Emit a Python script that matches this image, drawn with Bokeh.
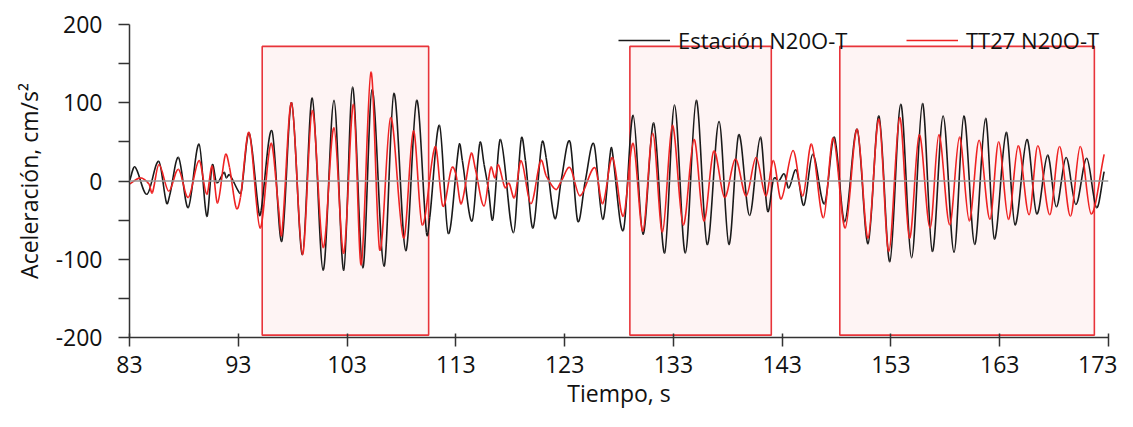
from bokeh.plotting import figure
from bokeh.models import (Range1d, FixedTicker, Span, Legend, LegendItem, ColumnDataSource)
from bokeh.embed import file_html
from bokeh.resources import INLINE

# ---- data ----
t_est = [83.0, 83.5, 84.6, 85.7, 86.4, 86.7, 87.5, 88.4, 89.4, 90.1, 90.6, 91.0, 91.7, 91.9, 92.2,
         93.1, 93.3, 94.0, 94.9, 95.1, 96.1, 97.0, 97.9, 98.9, 99.8, 100.8, 101.8, 102.7, 103.5,
         104.45, 105.3, 106.4, 107.3, 108.4, 109.4, 110.3, 110.6, 111.5, 112.3, 113.3, 113.6, 114.5,
         115.2, 115.6, 116.0, 116.4, 117.1, 118.3, 119.0, 119.4, 120.1, 120.9, 121.3, 122.1, 122.7,
         123.5, 124.2, 124.9, 125.7, 126.5, 127.2, 127.35, 128.4, 129.3, 130.2, 131.2, 132.2, 133.1,
         134.1, 135.1, 136.1, 137.2, 138.1, 139.0, 140.0, 141.0, 141.65, 142.2, 142.7, 143.2, 143.6,
         144.3, 145.0, 145.8, 146.9, 147.8, 148.75, 149.9, 150.9, 151.9, 152.9, 153.9, 154.9, 155.9,
         156.8, 157.8, 158.8, 159.7, 160.7, 161.7, 162.5, 163.6, 164.4, 165.5, 166.4, 167.4, 168.2,
         169.1, 170.0, 171.0, 171.9, 172.6]
a_est = [0, 18, -17, 25, -28, -18, 30, -34, 47, -45, 20, -2, 11, 4, 8,
         -15, -12, 61, -41, -38, 64, -77, 100, -94, 106, -114, 103, -114, 120,
         -111, 117, -109, 112, -89, 103, -66, -47, 71, -67, 46, 26, -51,
         48, 21, -11, -49, 53, -66, 53, 26, -60, 48, 30, -48, 2,
         50, -51, 0, 47, -49, 36, 41, -63, 84, -68, 74, -92, 97,
         -92, 103, -81, 76, -81, 59, -44, 56, -38, 2, 0, 9, -9,
         14, -31, 34, -29, 56, -52, 66, -80, 83, -103, 98, -98, 99,
         -90, 83, -91, 83, -81, 80, -74, 62, -56, 53, -42, 33, -33,
         30, -30, 29, -34, 12]

t_tt27 = [83.0, 84.0, 84.8, 85.1, 85.7, 86.6, 87.5, 88.4, 89.4, 90.1, 90.6, 91.1, 91.8, 92.2, 92.8,
          93.2, 94.0, 95.0, 96.0, 96.7, 97.0, 97.9, 98.9, 99.8, 100.8, 101.8, 102.7, 103.6, 104.3,
          105.2, 106.0, 107.0, 108.2, 109.1, 109.9, 111.1, 111.8, 112.6, 113.0, 113.5, 114.4, 114.8,
          115.6, 116.2, 116.6, 116.9, 117.5, 117.9, 118.4, 119.0, 119.9, 120.8, 121.3, 122.2, 122.7,
          123.5, 124.4, 125.8, 126.5, 127.4, 128.4, 129.3, 130.2, 131.1, 132.0, 132.9, 133.9, 134.9,
          135.8, 136.7, 137.7, 138.7, 139.7, 140.6, 141.5, 142.2, 142.9, 144.0, 144.9, 145.7, 146.8,
          147.7, 148.8, 149.9, 150.9, 151.9, 152.8, 153.8, 154.7, 155.6, 156.6, 157.4, 158.4, 159.3,
          160.2, 161.1, 162.1, 162.9, 163.8, 164.7, 165.7, 166.5, 167.6, 168.5, 169.5, 170.4, 171.4,
          172.6]
a_tt27 = [-4, 4, -4, -15, 21, -13, 15, -21, 26, -17, 19, -28, 33, 17, -34,
          -21, 62, -60, 48, -34, -68, 100, -94, 90, -85, 68, -92, 98, -107,
          139, -88, 81, -73, 64, -56, 44, -32, 16, 9, -29, 35, 15,
          -32, 17, 4, 21, -8, -3, -21, 26, -29, 26, 7, -11, 0,
          17, -19, 17, -29, 30, -45, 48, -64, 61, -65, 71, -56, 53,
          -51, 38, -21, 28, -19, 30, -19, 26, -23, 39, -19, 47, -47,
          55, -60, 66, -73, 79, -90, 81, -73, 59, -60, 59, -56, 56,
          -51, 52, -49, 50, -49, 45, -43, 45, -43, 44, -45, 44, -42,
          34]

# highlighted windows (s) and their vertical extent (cm/s2)
box_start = [95.2, 129.0, 148.3]
box_end = [110.5, 142.0, 171.7]
box_bottom = [-197, -197, -197]
box_top = [172, 172, 172]

x_ticks = [83, 93, 103, 113, 123, 133, 143, 153, 163, 173]
y_ticks = [-200, -100, 0, 100, 200]
y_tick_labels = ["-200", "-100", "0", "100", "200"]
y_minor = [-150, -50, 50, 150]

FONT = "Open Sans"
BLACK = "#1a1a1a"
RED = "#ee2222"


def smooth_segments(t, a):
    """Cubic Hermite rendering of the read points (curve passes through every point)."""
    n = len(t)
    slopes = []
    for i in range(n):
        lo = max(i - 1, 0)
        hi = min(i + 1, n - 1)
        slopes.append((a[hi] - a[lo]) / (t[hi] - t[lo]))
    d = dict(x0=[], y0=[], x1=[], y1=[], cx0=[], cy0=[], cx1=[], cy1=[])
    for i in range(n - 1):
        h = t[i + 1] - t[i]
        d["x0"].append(t[i]); d["y0"].append(a[i])
        d["x1"].append(t[i + 1]); d["y1"].append(a[i + 1])
        d["cx0"].append(t[i] + h / 3); d["cy0"].append(a[i] + slopes[i] * h / 3)
        d["cx1"].append(t[i + 1] - h / 3); d["cy1"].append(a[i + 1] - slopes[i + 1] * h / 3)
    return ColumnDataSource(d)


p = figure(width=1117, height=411, output_backend="svg", toolbar_location=None,
           x_range=Range1d(83, 173), y_range=Range1d(-200, 200),
           min_border_left=129, min_border_right=9, min_border_top=24, min_border_bottom=74)
p.outline_line_color = None
p.xgrid.visible = False
p.ygrid.visible = False
p.background_fill_color = "white"

boxes = ColumnDataSource(dict(left=box_start, right=box_end, bottom=box_bottom, top=box_top))
p.quad(left="left", right="right", bottom="bottom", top="top", source=boxes,
       fill_color="#fef4f4", line_color="#e8343a", line_width=1.6)

p.add_layout(Span(location=0, dimension="width", line_color="#9a9a9a", line_width=1.6))

r_est = p.bezier(x0="x0", y0="y0", x1="x1", y1="y1", cx0="cx0", cy0="cy0", cx1="cx1", cy1="cy1",
                 source=smooth_segments(t_est, a_est), line_color=BLACK, line_width=1.6)
r_tt = p.bezier(x0="x0", y0="y0", x1="x1", y1="y1", cx0="cx0", cy0="cy0", cx1="cx1", cy1="cy1",
                source=smooth_segments(t_tt27, a_tt27), line_color=RED, line_width=1.6)

# axes
p.xaxis.ticker = FixedTicker(ticks=x_ticks)
p.yaxis.ticker = FixedTicker(ticks=y_ticks, minor_ticks=y_minor)
p.yaxis.major_label_overrides = {v: s for v, s in zip(y_ticks, y_tick_labels)}
for ax in (p.xaxis[0], p.yaxis[0]):
    ax.axis_line_color = "#333333"
    ax.axis_line_width = 1.5
    ax.major_tick_line_color = "#333333"
    ax.major_tick_line_width = 1.5
    ax.minor_tick_line_color = "#333333"
    ax.minor_tick_line_width = 1.5
    ax.major_label_text_font = FONT
    ax.major_label_text_font_size = "23px"
    ax.major_label_text_color = "#111111"
    ax.axis_label_text_font = FONT
    ax.axis_label_text_font_size = "23px"
    ax.axis_label_text_font_style = "normal"
    ax.axis_label_text_color = "#111111"

p.xaxis.axis_label = "Tiempo, s"
p.xaxis.major_tick_in = 4
p.xaxis.major_tick_out = 9
p.xaxis.minor_tick_in = 0
p.xaxis.minor_tick_out = 0
p.xaxis.major_label_standoff = 9
p.xaxis.axis_label_standoff = 1

p.yaxis.axis_label = "Aceleración, cm/s²"
p.yaxis.major_tick_in = 0
p.yaxis.major_tick_out = 11
p.yaxis.minor_tick_in = 0
p.yaxis.minor_tick_out = 11
p.yaxis.major_label_standoff = 16
p.yaxis.axis_label_standoff = 8

for item, x_loc in ((LegendItem(label="Estación N20O-T", renderers=[r_est]), 489),
                    (LegendItem(label="TT27 N20O-T", renderers=[r_tt]), 777)):
    lg = Legend(items=[item], location=(x_loc, 282), orientation="horizontal",
                padding=0, margin=0, spacing=0, label_standoff=8,
                glyph_width=52, glyph_height=26, label_height=26,
                label_text_font=FONT, label_text_font_size="22px",
                label_text_color="#111111",
                border_line_color=None, background_fill_alpha=0)
    p.add_layout(lg)

open("out.html", "w").write(file_html(p, INLINE))
